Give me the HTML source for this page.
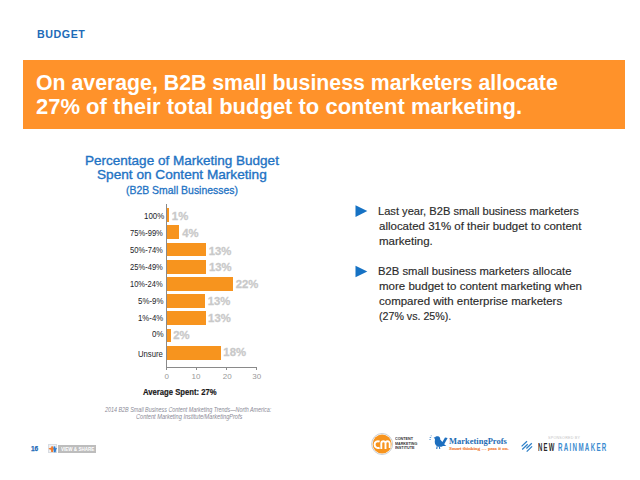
<!DOCTYPE html>
<html><head><meta charset="utf-8">
<style>
*{margin:0;padding:0;box-sizing:border-box}
html,body{width:640px;height:480px;background:#fff;overflow:hidden}
body{position:relative;font-family:"Liberation Sans",sans-serif}
.a{position:absolute;white-space:nowrap;line-height:1;transform-origin:0 0}
.r{position:absolute}
.bar{position:absolute;left:167px;height:13.8px;background:#f7941e}
.ax{position:absolute;background:#8a8a8a}

</style></head><body>
<div class="r" style="left:23px;top:60px;width:602px;height:69px;background:#ff922a"></div>
<div class="ax" style="left:166px;top:204px;width:1px;height:164px"></div>
<div class="ax" style="left:166px;top:367px;width:91px;height:1px"></div>
<div class="ax" style="left:166px;top:367px;width:1px;height:3px"></div>
<div class="ax" style="left:196px;top:367px;width:1px;height:3px"></div>
<div class="ax" style="left:226px;top:367px;width:1px;height:3px"></div>
<div class="ax" style="left:256px;top:367px;width:1px;height:3px"></div>
<div class="r" style="left:48.4px;top:443.9px;width:8.4px;height:9.2px;background:#eef0f3;border:0.5px solid #d8dce2"></div>
<div class="r" style="left:58.4px;top:444.8px;width:37.8px;height:7.9px;background:#bdbdbd"></div>
<svg class="r" style="left:0;top:0" width="640" height="480" viewBox="0 0 640 480">
<polygon points="355.5,205.2 367.3,211.1 355.5,217" fill="#1672c4"/>
<polygon points="355.5,265.8 367.3,271.5 355.5,277.2" fill="#1672c4"/>
<g>
<path d="M48.6,448.4 Q50.2,447.7 51.1,447.9 L51.2,446.4 Q52.2,445.9 53.1,446.4 L53.1,448 Q53.9,448.2 54.4,449 L53.3,449.7 L53.1,452 L51.2,452.1 L51,449.7 Q49.4,449.5 48.6,448.4 Z" fill="#f07a2c"/>
<path d="M53.4,446.7 Q54.4,446 55.3,446.5 L55.5,448.3 Q56.3,447.7 57,448 L56,450.1 L55.7,452.3 L53.8,452.3 L53.6,449.8 Z" fill="#2c7dd0"/>
</g>
<circle cx="382.15" cy="444" r="10.5" fill="#fff" stroke="#c9cdd2" stroke-width="1"/>
<circle cx="382.15" cy="444" r="9.5" fill="#f7941e"/>
<path d="M379.6,441.6 A3.4,3.4 0 1 0 379.6,447.6" fill="none" stroke="#fff" stroke-width="2"/>
<path d="M381.3,449 V443.4 A2.1,2.1 0 0 1 385.5,443.4 V449 M385.5,443.4 A2.1,2.1 0 0 1 389.7,443.4 V448" fill="none" stroke="#fff" stroke-width="1.9"/>
<g fill="#1d6fbf">
<path d="M433.6,437.6 L435.2,437.2 C435.6,436.2 437.4,435.8 438.8,436.5 C439.9,437.1 440.3,438.3 440.2,439.4 L442.4,442 L445,437.6 L447.6,437.9 L444.2,444.3 L446.3,446.1 L443,445.9 C441.5,447 439.4,447.1 437.4,446.5 C435,445.6 434.3,442.6 435,439.6 L434.6,438.4 Z"/>
<path d="M436.6,446.3 L436.2,448.9 L437.3,448.9 L437.6,446.6 Z M438.8,446.7 L439.3,448.9 L440.3,448.9 L439.8,446.6 Z"/>
<path d="M430.6,435.4 L431.9,435.4 L431.6,436.2 L430.8,436.2 Z M429.5,437.2 L431.2,437 L431,437.9 L429.7,438 Z M429.2,439.2 L431,439 L430.8,439.8 L429.4,439.9 Z" opacity="0.75"/>
</g>
<g stroke="#2f80c8" stroke-width="1.3" stroke-linecap="butt">
<path d="M521.6,446.4 L527,441.3 M522.2,449.4 L527.7,444.3 M526.4,448.5 L531.8,443.3 M526.7,451.6 L532.1,446.4"/>
</g>
</svg>

<div class="bar" style="top:208.15px;width:2.20px"></div><div class="bar" style="top:225.37px;width:12.00px"></div><div class="bar" style="top:242.59px;width:38.90px"></div><div class="bar" style="top:259.81px;width:39.00px"></div><div class="bar" style="top:277.03px;width:65.75px"></div><div class="bar" style="top:294.25px;width:38.20px"></div><div class="bar" style="top:311.47px;width:39.00px"></div><div class="bar" style="top:328.69px;width:4.00px"></div><div class="bar" style="top:345.91px;width:53.90px"></div>
<div class="a" id="budget" style="left:36.99px;top:29.60px;color:#1e6bb8;font-weight:bold;font-size:10px;letter-spacing:0.5px;transform:scaleX(1.0696);">BUDGET</div>
<div class="a" id="t1" style="left:35.70px;top:72.00px;color:#fff;font-weight:bold;font-size:22.3px;transform:scaleX(0.9546);">On average, B2B small business marketers allocate</div>
<div class="a" id="t2" style="left:36.00px;top:95.71px;color:#fff;font-weight:bold;font-size:22.3px;transform:scaleX(0.9858);">27% of their total budget to content marketing.</div>
<div class="a" id="c1" style="left:84.65px;top:154.00px;color:#1f73c4;font-size:13px;-webkit-text-stroke:0.35px #1f73c4;transform:scaleX(1.0399);">Percentage of Marketing Budget</div>
<div class="a" id="c2" style="left:96.95px;top:168.31px;color:#1f73c4;font-size:13px;-webkit-text-stroke:0.35px #1f73c4;transform:scaleX(1.0485);">Spent on Content Marketing</div>
<div class="a" id="c3" style="left:126.22px;top:185.00px;color:#1f73c4;font-size:11px;-webkit-text-stroke:0.3px #1f73c4;transform:scaleX(0.9492);">(B2B Small Businesses)</div>
<div class="a" id="cat0" style="left:143.71px;top:211.01px;color:#1c1c28;font-size:9.5px;transform:scaleX(0.8290);">100%</div>
<div class="a" id="cat1" style="left:130.00px;top:228.00px;color:#1c1c28;font-size:9.5px;transform:scaleX(0.7971);">75%-99%</div>
<div class="a" id="cat2" style="left:130.00px;top:245.21px;color:#1c1c28;font-size:9.5px;transform:scaleX(0.7971);">50%-74%</div>
<div class="a" id="cat3" style="left:130.00px;top:262.31px;color:#1c1c28;font-size:9.5px;transform:scaleX(0.7971);">25%-49%</div>
<div class="a" id="cat4" style="left:130.35px;top:278.82px;color:#1c1c28;font-size:9.5px;transform:scaleX(0.7914);">10%-24%</div>
<div class="a" id="cat5" style="left:138.00px;top:296.11px;color:#1c1c28;font-size:9.5px;transform:scaleX(0.8288);">5%-9%</div>
<div class="a" id="cat6" style="left:138.16px;top:312.76px;color:#1c1c28;font-size:9.5px;transform:scaleX(0.8235);">1%-4%</div>
<div class="a" id="cat7" style="left:152.00px;top:329.22px;color:#1c1c28;font-size:9.5px;transform:scaleX(0.8440);">0%</div>
<div class="a" id="cat8" style="left:138.40px;top:349.01px;color:#1c1c28;font-size:9.5px;transform:scaleX(0.8116);">Unsure</div>
<div class="a" id="val0" style="left:171.87px;top:210.82px;color:#c9c9c9;font-weight:bold;font-size:11.3px;-webkit-text-stroke:0.3px #c9c9c9;">1%</div>
<div class="a" id="val1" style="left:182.18px;top:228.21px;color:#c9c9c9;font-weight:bold;font-size:11.3px;-webkit-text-stroke:0.3px #c9c9c9;">4%</div>
<div class="a" id="val2" style="left:208.71px;top:245.75px;color:#c9c9c9;font-weight:bold;font-size:11.3px;-webkit-text-stroke:0.3px #c9c9c9;">13%</div>
<div class="a" id="val3" style="left:208.91px;top:261.60px;color:#c9c9c9;font-weight:bold;font-size:11.3px;-webkit-text-stroke:0.3px #c9c9c9;">13%</div>
<div class="a" id="val4" style="left:235.64px;top:278.90px;color:#c9c9c9;font-weight:bold;font-size:11.3px;-webkit-text-stroke:0.3px #c9c9c9;">22%</div>
<div class="a" id="val5" style="left:207.71px;top:296.00px;color:#c9c9c9;font-weight:bold;font-size:11.3px;-webkit-text-stroke:0.3px #c9c9c9;">13%</div>
<div class="a" id="val6" style="left:208.11px;top:312.81px;color:#c9c9c9;font-weight:bold;font-size:11.3px;-webkit-text-stroke:0.3px #c9c9c9;">13%</div>
<div class="a" id="val7" style="left:173.24px;top:330.11px;color:#c9c9c9;font-weight:bold;font-size:11.3px;-webkit-text-stroke:0.3px #c9c9c9;">2%</div>
<div class="a" id="val8" style="left:223.36px;top:346.50px;color:#c9c9c9;font-weight:bold;font-size:11.3px;-webkit-text-stroke:0.3px #c9c9c9;">18%</div>
<div class="a" id="tk0" style="left:164.50px;top:372.81px;color:#999;font-size:8px;">0</div>
<div class="a" id="tk1" style="left:191.50px;top:372.81px;color:#999;font-size:8px;">10</div>
<div class="a" id="tk2" style="left:222.70px;top:372.81px;color:#999;font-size:8px;">20</div>
<div class="a" id="tk3" style="left:252.20px;top:372.81px;color:#999;font-size:8px;">30</div>
<div class="a" id="avg" style="left:143.00px;top:387.81px;color:#1a1a1a;font-weight:bold;font-size:9px;-webkit-text-stroke:0.2px #1a1a1a;transform:scaleX(0.8542);">Average Spent: 27%</div>
<div class="a" id="src1" style="left:104.86px;top:406.71px;color:#8a8a96;font-style:italic;font-size:6.4px;transform:scaleX(0.8418);">2014 B2B Small Business Content Marketing Trends—North America:</div>
<div class="a" id="src2" style="left:135.54px;top:414.00px;color:#8a8a96;font-style:italic;font-size:6.4px;transform:scaleX(0.8781);">Content Marketing Institute/MarketingProfs</div>
<div class="a" id="b1_0" style="left:377.65px;top:205.90px;color:#2b2b2b;font-size:10.6px;-webkit-text-stroke:0.15px #2b2b2b;transform:scaleX(1.0496);">Last year, B2B small business marketers</div>
<div class="a" id="b1_1" style="left:378.69px;top:220.81px;color:#2b2b2b;font-size:10.6px;-webkit-text-stroke:0.15px #2b2b2b;transform:scaleX(1.0841);">allocated 31% of their budget to content</div>
<div class="a" id="b1_2" style="left:378.69px;top:235.71px;color:#2b2b2b;font-size:10.6px;-webkit-text-stroke:0.15px #2b2b2b;transform:scaleX(1.0868);">marketing.</div>
<div class="a" id="b2_0" style="left:377.62px;top:265.81px;color:#2b2b2b;font-size:10.6px;-webkit-text-stroke:0.15px #2b2b2b;transform:scaleX(1.0631);">B2B small business marketers allocate</div>
<div class="a" id="b2_1" style="left:378.69px;top:280.71px;color:#2b2b2b;font-size:10.6px;-webkit-text-stroke:0.15px #2b2b2b;transform:scaleX(1.0872);">more budget to content marketing when</div>
<div class="a" id="b2_2" style="left:378.69px;top:295.60px;color:#2b2b2b;font-size:10.6px;-webkit-text-stroke:0.15px #2b2b2b;transform:scaleX(1.0841);">compared with enterprise marketers</div>
<div class="a" id="b2_3" style="left:378.70px;top:310.50px;color:#2b2b2b;font-size:10.6px;-webkit-text-stroke:0.15px #2b2b2b;transform:scaleX(1.0065);">(27% vs. 25%).</div>
<div class="a" id="pg" style="left:30.50px;top:444.50px;color:#1e6bb8;font-weight:bold;font-size:7px;-webkit-text-stroke:0.25px #1e6bb8;transform:scaleX(0.9306);">16</div>
<div class="a" id="vs" style="left:61.00px;top:447.50px;color:#fff;font-weight:bold;font-size:4.6px;transform:scaleX(0.9868);">VIEW &amp; SHARE</div>
<div class="a" id="cmi1" style="left:395.00px;top:436.91px;color:#333;font-weight:bold;font-size:4.2px;transform:scaleX(0.8921);">CONTENT</div>
<div class="a" id="cmi2" style="left:395.00px;top:441.50px;color:#333;font-weight:bold;font-size:4.2px;transform:scaleX(0.8773);">MARKETING</div>
<div class="a" id="cmi3" style="left:395.00px;top:446.00px;color:#333;font-weight:bold;font-size:4.2px;transform:scaleX(0.9048);">INSTITUTE</div>
<div class="a" id="mp1" style="left:448.70px;top:436.80px;color:#1f6db5;font-family:Liberation Serif;font-weight:bold;font-size:9px;transform:scaleX(0.9425);">MarketingProfs</div>
<div class="a" id="mp2" style="left:448.57px;top:446.91px;color:#f26f21;font-family:Liberation Serif;font-size:4.8px;-webkit-text-stroke:0.15px #f26f21;transform:scaleX(1.0848);">Smart thinking … pass it on.</div>
<div class="a" id="sp" style="left:548.00px;top:435.75px;color:#c4c4c4;font-size:4.2px;letter-spacing:0.3px;transform:scaleX(0.8691);">SPONSORED BY</div>
<div class="a" id="nw" style="left:537.78px;top:440.91px;color:#2b2b2b;font-weight:bold;font-size:11.7px;letter-spacing:2.5px;transform:scaleX(0.5103);">NEW</div>
<div class="a" id="rm" style="left:558.35px;top:440.75px;color:#3a8bd0;font-weight:bold;font-size:11.7px;letter-spacing:2.5px;transform:scaleX(0.5286);">RAINMAKER</div>
</body></html>
